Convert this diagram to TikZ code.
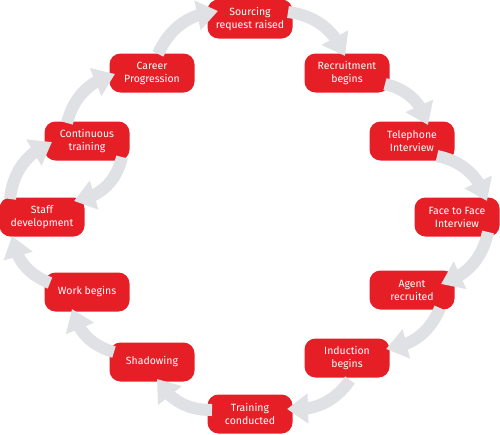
\documentclass[tikz,border=0pt]{standalone}
\usepackage{fontspec}
\setmainfont{Fira Sans}
\usetikzlibrary{arrows.meta,bending}
\definecolor{boxred}{RGB}{230,30,38}
\definecolor{arrgray}{RGB}{224,225,228}
\begin{document}
\begin{tikzpicture}[x=1pt,y=-1pt,
  stepbox/.style={fill=boxred,text=white,rounded corners=11pt,minimum width=85pt,minimum height=39pt,
    align=center,inner sep=2pt,font=\fontsize{10.5}{13}\selectfont},
  flow/.style={draw=arrgray,line width=12pt,-{Triangle[width=29pt,length=21pt,flex]}},
]
\useasboundingbox (0,0) rectangle (500,434);
\node[stepbox] (src) at (250,19) {Sourcing\\request raised};
\node[stepbox] (rec) at (347,73) {Recruitment\\begins};
\node[stepbox] (tel) at (412,141) {Telephone\\Interview};
\node[stepbox] (f2f) at (457,217) {Face to Face\\Interview};
\node[stepbox] (agt) at (412,290) {Agent\\recruited};
\node[stepbox] (ind) at (347,358) {Induction\\begins};
\node[stepbox] (trn) at (250,414) {Training\\conducted};
\node[stepbox] (shd) at (152,362) {Shadowing};
\node[stepbox] (wrk) at (87,292) {Work begins};
\node[stepbox] (stf) at (42,217) {Staff\\development};
\node[stepbox] (cnt) at (87,141) {Continuous\\training};
\node[stepbox] (car) at (152,73) {Career\\Progression};
% arrow end points
\coordinate (a1) at (288,12);  \coordinate (b1) at (345,56);
\coordinate (a2) at (385,84);  \coordinate (b2) at (428,125);
\coordinate (a3) at (437,156); \coordinate (b3) at (487,201);
\coordinate (a4) at (488,232); \coordinate (b4) at (441,284);
\coordinate (a5) at (440,308); \coordinate (b5) at (386,349);
\coordinate (a6) at (350,380); \coordinate (b6) at (287,409);
\coordinate (a7) at (212,410); \coordinate (b7) at (157,379);
\coordinate (a8) at (114,352); \coordinate (b8) at (72,309);
\coordinate (a9) at (50,283);  \coordinate (b9) at (12,236);
\coordinate (a10) at (10,199); \coordinate (b10) at (52,142);
\coordinate (a11) at (122,157); \coordinate (b11) at (74,201);
\coordinate (a12) at (67,123); \coordinate (b12) at (115,74);
\coordinate (a13) at (158,54); \coordinate (b13) at (218,11);
\draw[flow] (a1) to[bend left=30] (b1);
\draw[flow] (a2) to[bend left=30] (b2);
\draw[flow] (a3) to[bend left=30] (b3);
\draw[flow] (a4) to[bend left=30] (b4);
\draw[flow] (a5) to[bend left=30] (b5);
\draw[flow] (a6) to[bend left=30] (b6);
\draw[flow] (a7) to[bend left=30] (b7);
\draw[flow] (a8) to[bend left=30] (b8);
\draw[flow] (a9) to[bend left=30] (b9);
\draw[flow] (a10) to[bend left=30] (b10);
\draw[flow] (a11) to[bend left=35] (b11);
\draw[flow] (a12) to[bend left=30] (b12);
\draw[flow] (a13) to[bend left=30] (b13);
\end{tikzpicture}
\end{document}
